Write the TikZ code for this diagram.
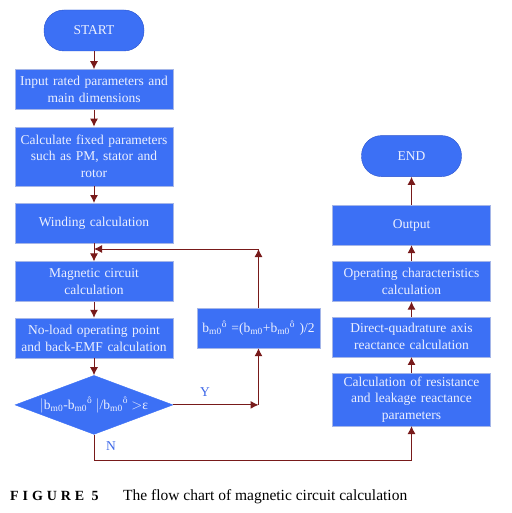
\documentclass[tikz,border=0pt]{standalone}
\usepackage{fontspec}
\setmainfont{Liberation Serif}
\newfontfamily\capsfont[LetterSpace=28]{Liberation Serif}
\usetikzlibrary{shapes,arrows.meta,positioning,calc}
\definecolor{boxblue}{RGB}{60,112,245}
\definecolor{boxedge}{RGB}{165,182,232}
\definecolor{termedge}{RGB}{40,82,205}
\definecolor{boxtext}{RGB}{236,240,255}
\definecolor{arrowred}{RGB}{120,26,26}
\definecolor{labelblue}{RGB}{62,104,232}
\newcommand{\boxfont}{\fontsize{13.5}{16.8}\selectfont}
\newcommand{\bmo}{b\textsubscript{m0}}
\newcommand{\bmh}{b\textsubscript{m0}\textsuperscript{ô}}
\tikzset{
block/.style = {draw=boxedge, fill=boxblue, rectangle, align=center, text=boxtext, text width=152pt, inner xsep=3pt, minimum height=40pt, font=\boxfont},
terminal/.style = {draw=termedge, fill=boxblue, rectangle, rounded corners=20pt, minimum width=100pt, minimum height=41pt, text=boxtext, font=\boxfont},
condition/.style = {draw=boxblue, fill=boxblue, diamond, aspect=2.68, align=center, text=boxtext, minimum width=158pt, minimum height=59pt, inner sep=0pt, font=\boxfont},
line/.style = {draw=arrowred, line width=1pt},
branch/.style = {text=labelblue, font=\boxfont}
}

\begin{document}
\begin{tikzpicture}[x=1pt, y=1pt, >={Latex[length=8pt,width=8pt]}]
    \useasboundingbox (0,0) rectangle (511,-513);

    % left column
    \node[terminal] (start) at (94,-30.5) {START};
    \node[block, below=18pt of start] (input) {Input rated parameters and\\main dimensions};
    \node[block, below=17pt of input, minimum height=59pt] (fixed) {Calculate fixed parameters\\such as PM, stator and\\rotor};
    \node[block, below=17pt of fixed] (wind) {Winding calculation};
    \node[block, below=18pt of wind] (magnet) {Magnetic circuit\\calculation};
    \node[block, below=16pt of magnet] (noload) {No-load operating point\\and back-EMF calculation};
    \node[condition, below=17pt of noload] (cond) {$|$\bmo-\bmh\ $|$/\bmh\ $>$ε};

    % update box
    \node[block, text width=117pt] (avg) at (258.5,-328) {\bmh\ =(\bmo+\bmh\ )/2};

    % right column
    \node[block, minimum height=51pt] (resist) at (411.5,-399.5) {Calculation of resistance\\and leakage reactance\\parameters};
    \node[block, above=16pt of resist] (direct) {Direct-quadrature axis\\reactance calculation};
    \node[block, above=15pt of direct] (operate) {Operating characteristics\\calculation};
    \node[block, above=16pt of operate] (output) {Output};
    \node[terminal, above=28pt of output] (end) {END};

    \draw[line,->] (start) -- (input);
    \draw[line,->] (input) -- (fixed);
    \draw[line,->] (fixed) -- (wind);
    \draw[line,->] (wind) -- (magnet);
    \draw[line,->] (magnet) -- (noload);
    \draw[line,->] (noload) -- (cond);

    % loop back
    \coordinate (ycorner) at (avg.south |- cond.east);
    \coordinate (fbcorner) at (avg.north |- 0,-249);
    \coordinate (fbend) at (magnet.north |- fbcorner);
    \draw[line,->] (cond.east) -- (ycorner);
    \draw[line,->] (ycorner) -- (avg.south);
    \draw[line,->] (avg.north) -- (fbcorner);
    \draw[line,->] (fbcorner) -- (fbend);
    \node[branch] (ylab) at (205,-392) {Y};

    % exit
    \coordinate (nlow) at (cond.south |- 0,-460);
    \draw[line,->] (cond.south) -- (nlow) -| (resist.south);
    \node[branch] (nlab) at (111,-446) {N};

    \draw[line,->] (resist) -- (direct);
    \draw[line,->] (direct) -- (operate);
    \draw[line,->] (operate) -- (output);
    \draw[line,->] (output) -- (end);

    % caption
    \node[anchor=base west, inner sep=0pt, font=\fontsize{14}{16}\capsfont\bfseries] (fignum) at (10,-500) {FIGURE 5};
    \node[anchor=base west, inner sep=0pt, font=\fontsize{15.5}{18}\selectfont] (figtext) at (123,-500) {The flow chart of magnetic circuit calculation};
\end{tikzpicture}
\end{document}
